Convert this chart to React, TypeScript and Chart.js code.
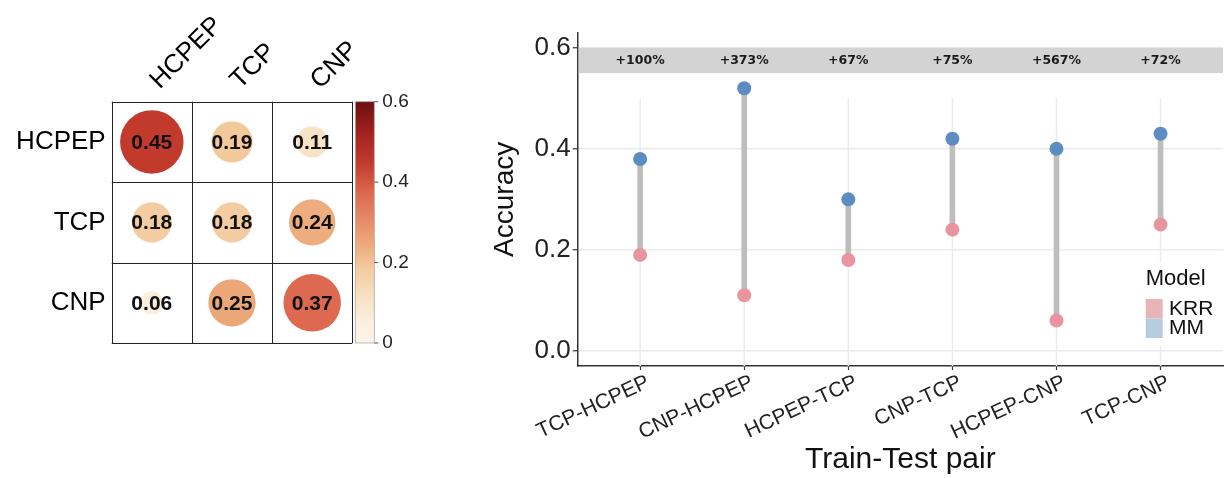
import React, { useEffect, useRef } from 'react';
import { Chart, registerables } from 'chart.js';

Chart.register(...registerables);

// ---------- data ----------
const corrLabels = ['HCPEP', 'TCP', 'CNP'];
const corrRowHCPEP = [0.45, 0.19, 0.11];
const corrRowTCP = [0.18, 0.18, 0.24];
const corrRowCNP = [0.06, 0.25, 0.37];
const corrRows = [corrRowHCPEP, corrRowTCP, corrRowCNP];
const colorbarTicks = [0, 0.2, 0.4, 0.6];

const pairs = ['TCP-HCPEP', 'CNP-HCPEP', 'HCPEP-TCP', 'CNP-TCP', 'HCPEP-CNP', 'TCP-CNP'];
const krrAcc = [0.19, 0.11, 0.18, 0.24, 0.06, 0.25];
const mmAcc = [0.38, 0.52, 0.3, 0.42, 0.4, 0.43];
const gainLabels = ['+100%', '+373%', '+67%', '+75%', '+567%', '+72%'];
const accTicks = [0, 0.2, 0.4, 0.6];
const models = ['KRR', 'MM'];

// ---------- styles ----------
const SANS = '"Liberation Sans", Arial, Helvetica, sans-serif';
const CMAP: [number, string][] = [
  [0, '#FDF4E8'],
  [0.06, '#FBEEDD'],
  [0.11, '#F8E3C6'],
  [0.185, '#F3CB9E'],
  [0.245, '#EDAA7B'],
  [0.37, '#DD6A50'],
  [0.45, '#C23A2C'],
  [0.52, '#A42220'],
  [0.6, '#6C100E'],
];
const KRR_COLOR = '#E8959D';
const MM_COLOR = '#5B8DC3';
const KRR_KEY = '#E7B4B8';
const MM_KEY = '#B8CCE0';

function hexToRgb(h: string) {
  const n = parseInt(h.slice(1), 16);
  return [(n >> 16) & 255, (n >> 8) & 255, n & 255];
}
function cmap(v: number) {
  for (let i = 0; i < CMAP.length - 1; i++) {
    const [a, ca] = CMAP[i];
    const [b, cb] = CMAP[i + 1];
    if (v <= b || i === CMAP.length - 2) {
      const t = Math.max(0, Math.min(1, (v - a) / (b - a)));
      const A = hexToRgb(ca);
      const B = hexToRgb(cb);
      const c = A.map((x, k) => Math.round(x + (B[k] - x) * t));
      return `rgb(${c[0]},${c[1]},${c[2]})`;
    }
  }
  return CMAP[CMAP.length - 1][1];
}

function CorrChart() {
  const ref = useRef<HTMLCanvasElement | null>(null);
  useEffect(() => {
    if (!ref.current) return;
    const points: any[] = [];
    const values: number[] = [];
    corrRows.forEach((row, r) =>
      row.forEach((v, c) => {
        points.push({ x: c, y: r, r: 47.3 * Math.sqrt(v) });
        values.push(v);
      })
    );
    const plugin = {
      id: 'corrDeco',
      afterDatasetsDraw(chart: any) {
        const { ctx, chartArea, scales } = chart;
        const xs = scales.x;
        const ys = scales.y;
        ctx.save();
        // cell grid
        ctx.strokeStyle = '#222';
        ctx.lineWidth = 1;
        for (let k = 0; k <= corrLabels.length; k++) {
          const px = Math.round(xs.getPixelForValue(k - 0.5)) + 0.5;
          ctx.beginPath();
          ctx.moveTo(px, chartArea.top);
          ctx.lineTo(px, chartArea.bottom);
          ctx.stroke();
          const py = Math.round(ys.getPixelForValue(k - 0.5)) + 0.5;
          ctx.beginPath();
          ctx.moveTo(chartArea.left, py);
          ctx.lineTo(chartArea.right, py);
          ctx.stroke();
        }
        // values
        const meta = chart.getDatasetMeta(0);
        ctx.fillStyle = '#111';
        ctx.font = `bold 21px ${SANS}`;
        ctx.textAlign = 'center';
        ctx.textBaseline = 'middle';
        meta.data.forEach((el: any, i: number) => {
          ctx.fillText(values[i].toFixed(2), el.x, el.y + 1);
        });
        // colorbar
        const cb = scales.cb;
        const top = cb.getPixelForValue(colorbarTicks[colorbarTicks.length - 1]);
        const bot = cb.getPixelForValue(colorbarTicks[0]);
        const x0 = chartArea.right + 3;
        const w = 19;
        const g = ctx.createLinearGradient(0, bot, 0, top);
        const vmax = colorbarTicks[colorbarTicks.length - 1];
        CMAP.forEach(([v, c]) => g.addColorStop(v / vmax, c));
        ctx.fillStyle = g;
        ctx.fillRect(x0, top, w, bot - top);
        ctx.strokeStyle = '#aaa';
        ctx.lineWidth = 0.8;
        ctx.strokeRect(x0, top, w, bot - top);
        ctx.strokeStyle = '#555';
        ctx.lineWidth = 1;
        colorbarTicks.forEach((v) => {
          const py = cb.getPixelForValue(v);
          ctx.beginPath();
          ctx.moveTo(x0 + w, py);
          ctx.lineTo(x0 + w + 4, py);
          ctx.stroke();
        });
        ctx.restore();
      },
    };
    const chart = new Chart(ref.current, {
      type: 'bubble',
      data: {
        datasets: [
          {
            data: points,
            backgroundColor: values.map((v) => cmap(v)),
            borderWidth: 0,
            hoverBorderWidth: 0,
          } as any,
        ],
      },
      options: {
        responsive: false,
        animation: false,
        events: [],
        layout: { padding: { left: 0, top: 0, right: 57.7, bottom: 135 } },
        plugins: { legend: { display: false }, tooltip: { enabled: false } },
        scales: {
          x: {
            type: 'linear',
            position: 'top',
            min: -0.5,
            max: 2.5,
            afterBuildTicks: (s: any) => {
              s.ticks = corrLabels.map((_, i) => ({ value: i }));
            },
            afterFit: (s: any) => {
              s.height = 101.7;
            },
            ticks: {
              callback: (v: any) => corrLabels[v],
              minRotation: 45,
              maxRotation: 45,
              autoSkip: false,
              font: { family: SANS, size: 26 },
              color: '#000',
              padding: 6,
              labelOffset: 25,
            },
            grid: { display: false, drawTicks: false },
            border: { display: false },
          },
          y: {
            type: 'linear',
            position: 'left',
            min: -0.5,
            max: 2.5,
            reverse: true,
            afterBuildTicks: (s: any) => {
              s.ticks = corrLabels.map((_, i) => ({ value: i }));
            },
            afterFit: (s: any) => {
              s.width = 111.7;
            },
            ticks: {
              callback: (v: any) => corrLabels[v],
              autoSkip: false,
              font: { family: SANS, size: 26 },
              color: '#000',
              padding: 6,
            },
            grid: { display: false, drawTicks: false },
            border: { display: false },
          },
          cb: {
            type: 'linear',
            position: 'right',
            min: colorbarTicks[0],
            max: colorbarTicks[colorbarTicks.length - 1],
            afterBuildTicks: (s: any) => {
              s.ticks = colorbarTicks.map((v) => ({ value: v }));
            },
            afterFit: (s: any) => {
              s.width = 70;
            },
            ticks: {
              callback: (v: any) => (v === 0 ? '0' : Number(v).toFixed(1)),
              font: { family: SANS, size: 19 },
              color: '#222',
              padding: 30,
            },
            grid: { display: false, drawTicks: false },
            border: { display: false },
          },
        } as any,
      },
      plugins: [plugin],
    });
    return () => chart.destroy();
  }, []);
  return (
    <canvas
      ref={ref}
      width={480}
      height={478}
      style={{ position: 'absolute', left: 0, top: 0, width: 480, height: 478 }}
    />
  );
}

function AccChart() {
  const ref = useRef<HTMLCanvasElement | null>(null);
  useEffect(() => {
    if (!ref.current) return;
    const plugin = {
      id: 'accDeco',
      beforeDatasetsDraw(chart: any) {
        const { ctx, chartArea, scales } = chart;
        const xs = scales.x;
        const ys = scales.y;
        ctx.save();
        // vertical guide lines
        ctx.strokeStyle = '#ebebeb';
        ctx.lineWidth = 1.5;
        pairs.forEach((_, i) => {
          const px = xs.getPixelForValue(i);
          ctx.beginPath();
          ctx.moveTo(px, chartArea.bottom);
          ctx.lineTo(px, ys.getPixelForValue(0.5));
          ctx.stroke();
        });
        // strip
        const t = ys.getPixelForValue(0.6);
        const b = ys.getPixelForValue(0.55);
        ctx.fillStyle = '#d3d3d3';
        ctx.fillRect(chartArea.left + 1, t, chartArea.right - chartArea.left - 1, b - t);
        ctx.fillStyle = '#1a1a1a';
        ctx.font = 'bold 12.5px "DejaVu Sans", sans-serif';
        ctx.textAlign = 'center';
        ctx.textBaseline = 'middle';
        gainLabels.forEach((lab, i) => {
          ctx.fillText(lab, xs.getPixelForValue(i), ys.getPixelForValue(0.575));
        });
        ctx.restore();
      },
      afterDraw(chart: any) {
        const { ctx } = chart;
        ctx.save();
        ctx.fillStyle = '#fff';
        ctx.fillRect(658, 262, 88, 84);
        ctx.fillStyle = '#111';
        ctx.font = `22px ${SANS}`;
        ctx.textAlign = 'left';
        ctx.textBaseline = 'alphabetic';
        ctx.fillText('Model', 665.7, 285);
        const keys = [KRR_KEY, MM_KEY];
        models.forEach((m, i) => {
          const y0 = 299 + i * 19.5;
          ctx.fillStyle = keys[i];
          ctx.fillRect(665.7, y0, 17, 19.5);
          ctx.fillStyle = '#111';
          ctx.font = `21px ${SANS}`;
          ctx.textBaseline = 'middle';
          ctx.fillText(m, 689, y0 + 10);
        });
        ctx.restore();
      },
    };
    const chart = new Chart(ref.current, {
      type: 'bar',
      data: {
        datasets: [
          {
            type: 'bar',
            label: 'range',
            data: pairs.map((_, i) => ({ x: i, y: [krrAcc[i], mmAcc[i]] })),
            backgroundColor: '#bdbdbd',
            barThickness: 5,
            borderWidth: 0,
            order: 3,
          } as any,
          {
            type: 'line',
            label: models[0],
            data: pairs.map((_, i) => ({ x: i, y: krrAcc[i] })),
            showLine: false,
            pointRadius: 7,
            pointBackgroundColor: KRR_COLOR,
            pointBorderWidth: 0,
            order: 2,
          } as any,
          {
            type: 'line',
            label: models[1],
            data: pairs.map((_, i) => ({ x: i, y: mmAcc[i] })),
            showLine: false,
            pointRadius: 7,
            pointBackgroundColor: MM_COLOR,
            pointBorderWidth: 0,
            order: 1,
          } as any,
        ],
      },
      options: {
        responsive: false,
        animation: false,
        events: [],
        layout: { padding: { left: 0, top: 32.7, right: 4, bottom: 0 } },
        plugins: { legend: { display: false }, tooltip: { enabled: false } },
        scales: {
          x: {
            type: 'linear',
            min: -0.6,
            max: 5.6,
            offset: false,
            afterBuildTicks: (s: any) => {
              s.ticks = pairs.map((_, i) => ({ value: i }));
            },
            afterFit: (s: any) => {
              s.height = 112;
            },
            ticks: {
              callback: (v: any) => pairs[v],
              minRotation: 25,
              maxRotation: 25,
              autoSkip: false,
              font: { family: SANS, size: 21 },
              color: '#222',
              padding: 0,
              labelOffset: 8,
            },
            grid: {
              drawOnChartArea: false,
              drawTicks: true,
              tickLength: 4,
              tickColor: '#333',
              tickWidth: 1.2,
              offset: false,
            },
            border: { color: '#333', width: 1.5 },
            title: {
              display: true,
              text: 'Train-Test pair',
              font: { family: SANS, size: 30 },
              color: '#111',
              padding: { top: 0, bottom: 0 },
            },
          },
          y: {
            type: 'linear',
            min: -0.03,
            max: 0.63,
            afterBuildTicks: (s: any) => {
              s.ticks = accTicks.map((v) => ({ value: v }));
            },
            afterFit: (s: any) => {
              s.width = 97.7;
            },
            ticks: {
              callback: (v: any) => Number(v).toFixed(1),
              font: { family: SANS, size: 26 },
              color: '#222',
              padding: 2,
            },
            grid: {
              color: '#ebebeb',
              lineWidth: 1.5,
              tickColor: '#333',
              tickLength: 5,
              tickWidth: 1.2,
            },
            border: { color: '#333', width: 1.5 },
            title: {
              display: true,
              text: 'Accuracy',
              font: { family: SANS, size: 28 },
              color: '#111',
              padding: { top: 8, bottom: 0 },
            },
          },
        } as any,
      },
      plugins: [plugin],
    });
    return () => chart.destroy();
  }, []);
  return (
    <canvas
      ref={ref}
      width={750}
      height={478}
      style={{ position: 'absolute', left: 480, top: 0, width: 750, height: 478 }}
    />
  );
}

export default function App() {
  return (
    <div
      style={{
        position: 'fixed',
        left: 0,
        top: 0,
        width: 1230,
        height: 478,
        background: '#fff',
        overflow: 'hidden',
      }}
    >
      <CorrChart />
      <AccChart />
    </div>
  );
}
